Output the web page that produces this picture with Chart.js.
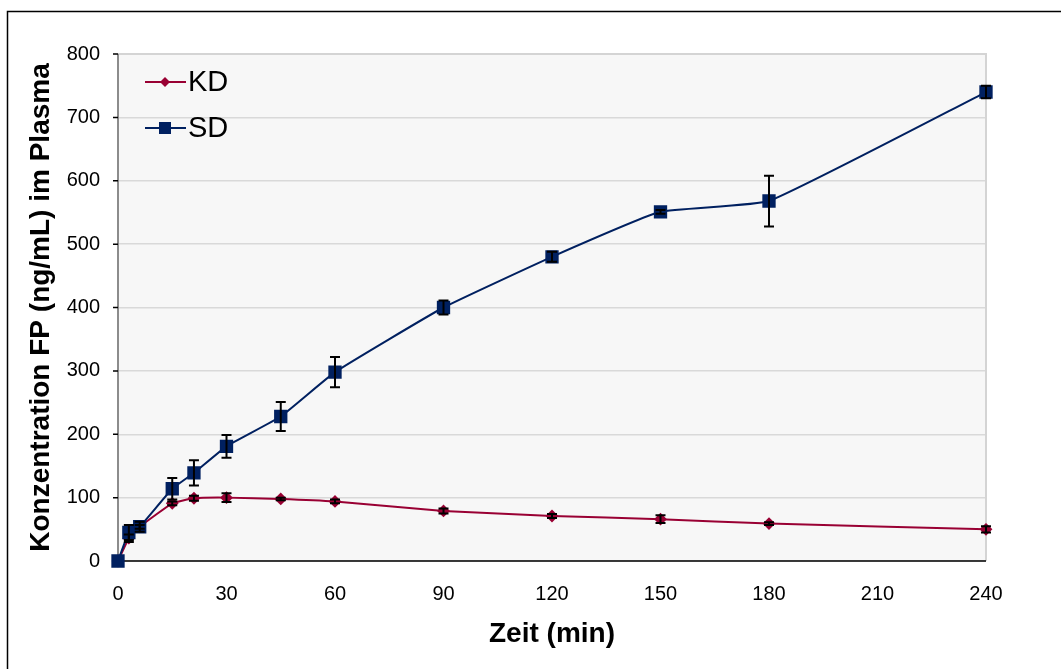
<!DOCTYPE html>
<html>
<head>
<meta charset="utf-8">
<script src="https://cdn.jsdelivr.net/npm/chart.js@4"></script>
<style>
  html, body { margin: 0; padding: 0; background: #fff; }
  #wrap { width: 1061px; height: 669px; position: relative; }
</style>
</head>
<body>
<div id="wrap"><canvas id="chart"></canvas></div>
<script>
// time points (min)
const zeit = [0, 3, 6, 15, 21, 30, 45, 60, 90, 120, 150, 180, 240];
// KD series and its error
const kdWerte = [0, 36, 54, 91, 99, 100, 98, 94, 79, 71, 66, 59, 50];
const kdFehler = [0, 6, 3, 3, 4, 7, 2, 3, 4, 3, 6, 2, 5];
// SD series and its error
const sdWerte = [0, 45, 54, 114, 139, 181, 228, 298, 400, 480, 551, 568, 740];
const sdFehler = [0, 12, 8, 17, 20, 18, 23, 24, 11, 8, 3, 40, 10];
const xTicks = [0, 30, 60, 90, 120, 150, 180, 210, 240];
const yTicks = [0, 100, 200, 300, 400, 500, 600, 700, 800];

const kdColor = '#990033';
const sdColor = '#002060';
const schrift = '"Liberation Sans", Arial, sans-serif';

function punkte(werte) {
  return zeit.map((t, i) => ({ x: t, y: werte[i] }));
}

// frame + plot background
const hintergrund = {
  id: 'hintergrund',
  beforeDraw(chart) {
    const ctx = chart.ctx, a = chart.chartArea;
    ctx.save();
    ctx.strokeStyle = '#000';
    ctx.lineWidth = 1.5;
    ctx.strokeRect(7.5, 11.5, 1100, 700);
    ctx.fillStyle = '#f7f7f7';
    ctx.fillRect(a.left, a.top, a.right - a.left, a.bottom - a.top);
    ctx.restore();
  },
  beforeDatasetsDraw(chart) {
    const ctx = chart.ctx, a = chart.chartArea, ys = chart.scales.y;
    ctx.save();
    ctx.strokeStyle = '#d4d4d4';
    ctx.lineWidth = 2;
    ctx.beginPath();
    ctx.moveTo(a.left, a.top);
    ctx.lineTo(a.right, a.top);
    ctx.lineTo(a.right, a.bottom);
    ctx.stroke();
    ctx.strokeStyle = '#8c8c8c';
    ctx.beginPath();
    ctx.moveTo(a.left, a.top);
    ctx.lineTo(a.left, a.bottom);
    ctx.stroke();
    ctx.strokeStyle = '#000';
    ctx.lineWidth = 1.5;
    ctx.beginPath();
    ctx.moveTo(a.left, a.bottom);
    ctx.lineTo(a.right, a.bottom);
    yTicks.forEach(v => {
      const y = ys.getPixelForValue(v);
      ctx.moveTo(a.left - 5, y); ctx.lineTo(a.left, y);
    });
    ctx.stroke();
    ctx.restore();
  }
};

// error bars
const fehlerBalken = {
  id: 'fehlerBalken',
  afterDatasetsDraw(chart) {
    const ctx = chart.ctx;
    const xs = chart.scales.x, ys = chart.scales.y;
    const sets = [kdFehler, sdFehler];
    ctx.save();
    ctx.strokeStyle = '#000';
    ctx.lineWidth = 2;
    chart.data.datasets.forEach((ds, d) => {
      ds.data.forEach((p, i) => {
        const e = sets[d][i];
        if (!e) return;
        const x = xs.getPixelForValue(p.x);
        const y1 = ys.getPixelForValue(p.y + e);
        const y2 = ys.getPixelForValue(p.y - e);
        ctx.beginPath();
        ctx.moveTo(x, y1); ctx.lineTo(x, y2);
        ctx.moveTo(x - 5, y1); ctx.lineTo(x + 5, y1);
        ctx.moveTo(x - 5, y2); ctx.lineTo(x + 5, y2);
        ctx.stroke();
      });
    });
    ctx.restore();
  }
};

// legend inside plot area
const legende = {
  id: 'legende',
  afterDraw(chart) {
    const ctx = chart.ctx;
    const eintraege = [
      { label: 'KD', color: kdColor, style: 'rectRot', y: 82 },
      { label: 'SD', color: sdColor, style: 'rect', y: 128 }
    ];
    ctx.save();
    eintraege.forEach(e => {
      ctx.strokeStyle = e.color;
      ctx.lineWidth = 2;
      ctx.beginPath();
      ctx.moveTo(145, e.y); ctx.lineTo(186, e.y);
      ctx.stroke();
      ctx.fillStyle = e.color;
      if (e.style === 'rect') {
        ctx.fillRect(159, e.y - 6, 12, 12);
      } else {
        ctx.beginPath();
        ctx.moveTo(165, e.y - 5); ctx.lineTo(170, e.y);
        ctx.lineTo(165, e.y + 5); ctx.lineTo(160, e.y);
        ctx.closePath(); ctx.fill();
      }
      ctx.fillStyle = '#000';
      ctx.font = '29px ' + schrift;
      ctx.textBaseline = 'middle';
      ctx.fillText(e.label, 188, e.y + 1);
    });
    ctx.restore();
  }
};

new Chart(document.getElementById('chart'), {
  type: 'line',
  data: {
    datasets: [
      {
        label: 'KD',
        data: punkte(kdWerte),
        borderColor: kdColor,
        backgroundColor: kdColor,
        borderWidth: 2,
        pointStyle: 'rectRot',
        pointRadius: 5,
        tension: 0.12,
        order: 2,
        clip: false
      },
      {
        label: 'SD',
        data: punkte(sdWerte),
        borderColor: sdColor,
        backgroundColor: sdColor,
        borderWidth: 2,
        pointStyle: 'rect',
        pointRadius: 8,
        tension: 0.12,
        order: 1,
        clip: false
      }
    ]
  },
  options: {
    responsive: true,
    maintainAspectRatio: false,
    animation: false,
    layout: { padding: { left: 0, top: 54, right: 75, bottom: 0 } },
    plugins: {
      legend: { display: false },
      tooltip: { enabled: false }
    },
    scales: {
      x: {
        type: 'linear',
        min: 0,
        max: 240,
        afterBuildTicks(scale) { scale.ticks = xTicks.map(v => ({ value: v })); },
        afterFit(scale) { scale.height = 108; },
        grid: { display: false, drawOnChartArea: false, drawTicks: true, tickLength: 7, tickColor: '#000', tickWidth: 1.5 },
        border: { display: false },
        ticks: { color: '#000', font: { family: schrift, size: 20 }, padding: 14, maxRotation: 0 },
        title: {
          display: true,
          text: 'Zeit (min)',
          color: '#000',
          font: { family: schrift, size: 28, weight: 'bold' },
          padding: { top: 0, bottom: 18 }
        }
      },
      y: {
        min: 0,
        max: 800,
        afterBuildTicks(scale) { scale.ticks = yTicks.map(v => ({ value: v })); },
        afterFit(scale) { scale.width = 118; },
        grid: { color: '#d9d9d9', lineWidth: 1.5, drawTicks: false },
        border: { display: false },
        ticks: { color: '#000', font: { family: schrift, size: 20 }, padding: 18 },
        title: {
          display: true,
          text: 'Konzentration FP (ng/mL) im Plasma',
          color: '#000',
          font: { family: schrift, size: 28, weight: 'bold' },
          padding: { bottom: 0, top: 24 }
        }
      }
    }
  },
  plugins: [hintergrund, fehlerBalken, legende]
});
</script>
</body>
</html>
